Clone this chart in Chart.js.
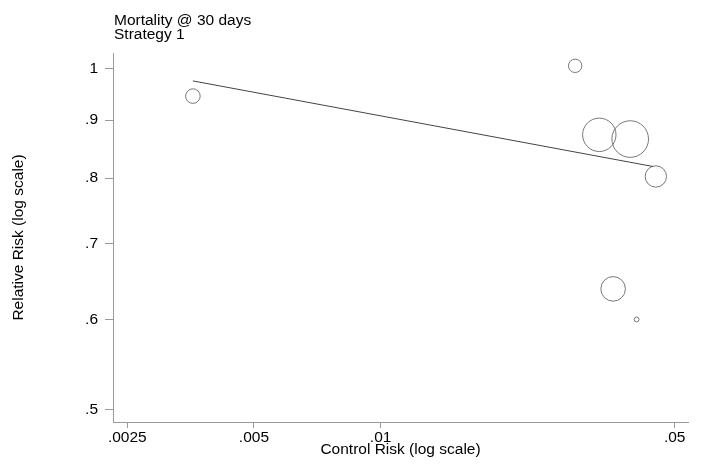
<!DOCTYPE html>
<html>
<head>
<meta charset="utf-8">
<script src="https://cdn.jsdelivr.net/npm/chart.js@4"></script>
<style>
  body { margin: 0; background: #fff; }
</style>
</head>
<body>
<canvas id="chart" width="701" height="470"></canvas>
<script>
// studies: control risk, relative risk, weight (bubble area)
const controlRisk = [0.00358, 0.0290, 0.0331, 0.0392, 0.0451, 0.0357, 0.0406];
const relativeRisk = [0.945, 1.005, 0.8735, 0.866, 0.8026, 0.6387, 0.6002];
const studyWeight = [53, 45, 279, 335, 114, 151, 6];

// fitted meta-regression line
const fitX = [0.00358, 0.0444];
const fitY = [0.9746, 0.819];

const xTicks = [0.0025, 0.005, 0.01, 0.05];
const xTickLabels = ['.0025', '.005', '.01', '.05'];
const yTicks = [0.5, 0.6, 0.7, 0.8, 0.9, 1];
const yTickLabels = ['.5', '.6', '.7', '.8', '.9', '1'];
const titleLines = ['Mortality @ 30 days', 'Strategy 1'];

const FONT = 'Arial, "Liberation Sans", sans-serif';
const FONT_SIZE = 15.5;
const AXIS_GRAY = '#9a9a9a';
Chart.defaults.font.family = FONT;
Chart.defaults.font.size = FONT_SIZE;
Chart.defaults.color = '#000';

// Stata style title, left aligned with the plot region
const titlePlugin = {
    id: 'stataTitle',
    afterDraw(chart) {
        const ctx = chart.ctx;
        ctx.save();
        ctx.font = FONT_SIZE + 'px ' + FONT;
        ctx.fillStyle = '#000';
        ctx.textAlign = 'left';
        ctx.textBaseline = 'alphabetic';
        for (let i = 0; i < titleLines.length; i++) {
            ctx.fillText(titleLines[i], chart.chartArea.left + 1, 25 + i * 14);
        }
        ctx.restore();
    }
};

const bubbles = controlRisk.map((x, i) => ({x: x, y: relativeRisk[i], r: Math.sqrt(studyWeight[i])}));
const fitLine = fitX.map((x, i) => ({x: x, y: fitY[i]}));

new Chart(document.getElementById('chart'), {
    type: 'bubble',
    data: {
        datasets: [
            {
                type: 'line',
                data: fitLine,
                borderColor: '#444',
                borderWidth: 1,
                pointRadius: 0,
                fill: false
            },
            {
                type: 'bubble',
                data: bubbles,
                backgroundColor: 'rgba(0,0,0,0)',
                borderColor: '#777',
                borderWidth: 1
            }
        ]
    },
    options: {
        responsive: false,
        animation: false,
        layout: {
            autoPadding: false,
            padding: {top: 53, right: 13, left: 0, bottom: 0}
        },
        plugins: {
            legend: {display: false},
            tooltip: {enabled: false}
        },
        scales: {
            x: {
                type: 'logarithmic',
                bounds: 'data',
                min: 0.002312,
                max: 0.05378,
                afterBuildTicks: s => { s.ticks = xTicks.map(v => ({value: v})); },
                afterFit: s => {
                    s.height = 48;
                    s.paddingLeft = 0;
                    s.paddingRight = 0;
                },
                ticks: {
                    callback: (v, i) => xTickLabels[i],
                    padding: 0,
                    maxRotation: 0,
                    autoSkip: false
                },
                grid: {drawOnChartArea: false, tickLength: 6, color: AXIS_GRAY},
                border: {color: AXIS_GRAY},
                title: {
                    display: true,
                    text: 'Control Risk (log scale)',
                    padding: {top: 0, bottom: 11}
                }
            },
            y: {
                type: 'logarithmic',
                bounds: 'data',
                min: 0.4873,
                max: 1.0315,
                afterBuildTicks: s => { s.ticks = yTicks.map(v => ({value: v})); },
                afterFit: s => {
                    s.width = 113;
                    s.paddingTop = 0;
                    s.paddingBottom = 0;
                },
                ticks: {
                    callback: (v, i) => yTickLabels[i],
                    padding: 7,
                    autoSkip: false
                },
                grid: {drawOnChartArea: false, tickLength: 8, color: AXIS_GRAY},
                border: {color: AXIS_GRAY},
                title: {
                    display: true,
                    text: 'Relative Risk (log scale)',
                    padding: {top: 9, bottom: 0}
                }
            }
        }
    },
    plugins: [titlePlugin]
});
</script>
</body>
</html>
